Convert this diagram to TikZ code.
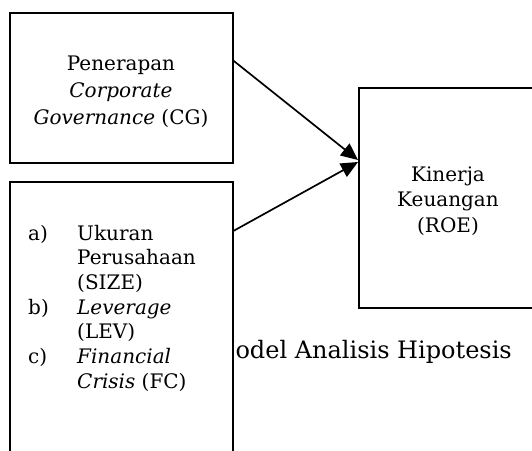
\documentclass[tikz,border=0pt]{standalone}
\usepackage{fontspec}
\setmainfont{DejaVu Serif}
\usetikzlibrary{arrows.meta}

\begin{document}
\begin{tikzpicture}[x=1pt,y=-1pt]
  \useasboundingbox (0,0) rectangle (532,450);
  % caption, its first letter lies behind the lower box
  \node[anchor=base east,inner sep=0,font=\fontsize{24}{28}\selectfont] (cap) at (512,358) {Model Analisis Hipotesis};
  \begin{scope}[every node/.style={draw,line width=2pt,fill=white,inner sep=0}]
    \node[minimum width=223pt,minimum height=150pt] (cg) at (121,87.7) {};
    \node[minimum width=223pt,minimum height=290pt] (ind) at (121,326.9) {};
    \node[minimum width=178pt,minimum height=220pt] (roe) at (448,198) {};
  \end{scope}
  \begin{scope}[every node/.style={inner sep=0,align=center,font=\fontsize{20}{26.7}\selectfont}]
    \node (cgtext) at ([yshift=-4pt]cg.center) {Penerapan\\\textit{Corporate}\\\textit{Governance} (CG)};
    \node[font=\fontsize{20}{25.5}\selectfont] (roetext) at ([yshift=-3pt]roe.center) {Kinerja\\Keuangan\\(ROE)};
  \end{scope}
  \node[anchor=north west,inner sep=0,font=\fontsize{20}{24.7}\selectfont] (list) at (28,222.7) {%
    \begin{tabular}{@{}p{49pt}@{}l@{}}
      a) & Ukuran\\
         & Perusahaan\\
         & (SIZE)\\
      b) & \textit{Leverage}\\
         & (LEV)\\
      c) & \textit{Financial}\\
         & \textit{Crisis} (FC)
    \end{tabular}};
  \begin{scope}[every edge/.style={draw,line width=1.7pt,-{Triangle[length=17pt,width=15pt]}}]
    \path ([yshift=-49pt]cg.north east) edge ([yshift=-73pt]roe.north west);
    \path ([yshift=-50pt]ind.north east) edge ([yshift=-75pt]roe.north west);
  \end{scope}
\end{tikzpicture}
\end{document}
